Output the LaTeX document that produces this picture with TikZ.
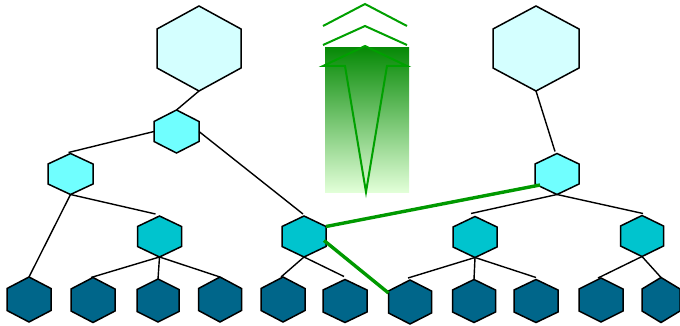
\documentclass[tikz,border=0pt]{standalone}
\usetikzlibrary{calc}
\definecolor{bighex}{HTML}{D4FFFF}
\definecolor{smallhex}{HTML}{70FFFF}
\definecolor{midhex}{HTML}{00C4CE}
\definecolor{leafhex}{HTML}{00668A}
\definecolor{linkgreen}{HTML}{009900}
\definecolor{icongreen}{HTML}{00A000}
\definecolor{gradtop}{HTML}{078A07}
\definecolor{gradbot}{HTML}{E2FFD8}
\tikzset{
  hexline/.style={draw=black, line width=1.5pt, line join=miter},
  link/.style={draw=black, line width=1.4pt},
  greenlink/.style={draw=linkgreen, line width=3.4pt},
  iconline/.style={draw=icongreen, line width=2pt, line join=miter},
}
% name, cx, cy, half width, half height, half side, fill
\newcommand\hexa[7]{%
  \draw[hexline, fill=#7] (#2,#3-#5) -- (#2+#4,#3-#6) -- (#2+#4,#3+#6) -- (#2,#3+#5)
    -- (#2-#4,#3+#6) -- (#2-#4,#3-#6) -- cycle;
  \node[inner sep=0pt, outer sep=0pt, minimum width=2*#4 pt, minimum height=2*#5 pt] (#1) at (#2,#3) {};
}
\begin{document}
\begin{tikzpicture}[x=1pt,y=-1pt]
\useasboundingbox (0,0) rectangle (680,326);
% gradient icon
\shade[top color=gradtop, bottom color=gradbot] (325,48) rectangle (409,192);
\draw[iconline] (323,26) -- (365,4) -- (407,26);
\draw[iconline] (323,45) -- (365,26) -- (407,45);
\draw[iconline] (323,66) -- (365,46) -- (407,66) -- (387,66) -- (366,192) -- (345,66) -- cycle;
% hexagons
\hexa{bigL}{199}{48.5}{42}{42.5}{19.5}{bighex}
\hexa{bigR}{536}{48.5}{43}{42.5}{19.5}{bighex}
\hexa{sTL}{176.5}{131.5}{22.5}{21.5}{10}{smallhex}
\hexa{sL}{70.5}{174}{22.5}{20.5}{10}{smallhex}
\hexa{sR}{557}{174}{22}{20.5}{10}{smallhex}
\hexa{m1}{159.5}{236.5}{22}{20.5}{10}{midhex}
\hexa{m2}{304}{236.5}{22}{20.5}{10}{midhex}
\hexa{m3}{475}{237}{22}{20.5}{10}{midhex}
\hexa{m4}{642}{236}{21.5}{20.5}{10}{midhex}
\hexa{l1}{29}{299.5}{22}{22.5}{11}{leafhex}
\hexa{l2}{93}{300}{22}{22.5}{11}{leafhex}
\hexa{l3}{158}{300.5}{21}{21.5}{11}{leafhex}
\hexa{l4}{220}{299.5}{21.5}{22.5}{11}{leafhex}
\hexa{l5}{283}{299.5}{22}{22.5}{11}{leafhex}
\hexa{l6}{345}{301}{22}{21.5}{11}{leafhex}
\hexa{l7}{410}{302}{21.5}{22}{11}{leafhex}
\hexa{l8}{474}{301}{21.5}{21.5}{11}{leafhex}
\hexa{l9}{536}{301}{22}{21.5}{11}{leafhex}
\hexa{l10}{601}{300}{22}{22}{11}{leafhex}
\hexa{l11}{661}{300}{19}{22.5}{11}{leafhex}
% connectors
\draw[link] (bigL.south) -- (sTL.north);
\draw[link] (sTL.west) -- ($(sL.north)+(-2,-1)$);
\draw[link] (sTL.east) -- ($(m2.north)+(-1,-2)$);
\draw[link] (sL.south) -- (l1.north);
\draw[link] (sL.south) -- ($(m1.north)+(-4,-2)$);
\draw[link] (m1.south) -- ($(l2.north)+(-2,0)$);
\draw[link] (m1.south) -- (l3.north);
\draw[link] (m1.south) -- (l4.north);
\draw[link] (m2.south) -- ($(l5.north)+(-2,0)$);
\draw[link] (m2.south) -- ($(l6.north)+(-1,-3)$);
\draw[link] (m3.south) -- ($(l7.north)+(-2,-2)$);
\draw[link] (m3.south) -- (l8.north);
\draw[link] (m3.south) -- ($(l9.north)+(0,-2)$);
\draw[link] (m4.south) -- ($(l10.north)+(-3,0)$);
\draw[link] (m4.south) -- (l11.north);
\draw[link] (bigR.south) -- ($(sR.north)+(-2,-2)$);
\draw[link] (sR.south) -- ($(m3.north)+(-4,-3)$);
\draw[link] (sR.south) -- ($(m4.north)+(1,-2)$);
% green links
\draw[greenlink] ($(m2.east)+(0,-10)$) -- ($(sR.west)+(5,11)$);
\draw[greenlink] ($(m2.east)+(-2,4)$) -- ($(l7.west)+(0,-9)$);
\end{tikzpicture}
\end{document}
